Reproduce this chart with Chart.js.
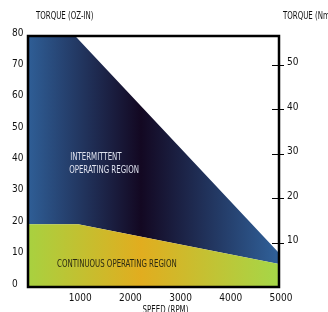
<!DOCTYPE html>
<html>
<head>
<meta charset="utf-8">
<script src="https://cdn.jsdelivr.net/npm/chart.js@4.4.1/dist/chart.umd.min.js"></script>
<style>
  html, body { margin: 0; padding: 0; background: #fff; }
  #wrap { width: 328px; height: 312px; }
</style>
</head>
<body>
<div id="wrap"><canvas id="torqueChart" width="328" height="312"></canvas></div>
<script>
// speed in rpm, torque in oz-in
const contSpeed = [0, 1000, 5000];
const contTorque = [20, 20, 7.3];
const interSpeed = [0, 940, 5000];
const interTorque = [80, 80, 10.8];
const speedTicks = [1000, 2000, 3000, 4000, 5000];
const ozinTicks = [0, 10, 20, 30, 40, 50, 60, 70, 80];
const ncmTicks = [10, 20, 30, 40, 50];
const OZIN_TO_NCM = 0.7062;

const FONT = "'Liberation Sans Narrow', 'DejaVu Sans Condensed', sans-serif";

function hGradient(chart, stops) {
    const area = chart.chartArea;
    if (!area) return stops[0][1];
    const g = chart.ctx.createLinearGradient(area.left, 0, area.right, 0);
    stops.forEach(s => g.addColorStop(s[0], s[1]));
    return g;
}

function squeezedText(ctx, text, x, y, color, align) {
    ctx.save();
    ctx.font = '10px ' + FONT;
    ctx.fillStyle = color;
    ctx.textBaseline = 'middle';
    ctx.textAlign = align || 'left';
    ctx.translate(x, y);
    ctx.scale(0.78, 1);
    ctx.fillText(text, 0, 0);
    ctx.restore();
}

const decorations = {
    id: 'decorations',
    afterDatasetsDraw(chart) {
        const ctx = chart.ctx;
        const a = chart.chartArea;
        const x = chart.scales.x, y = chart.scales.y, y2 = chart.scales.y2;

        // frame
        ctx.save();
        ctx.strokeStyle = '#000';
        ctx.lineWidth = 2.5;
        ctx.strokeRect(a.left, a.top, a.right - a.left, a.bottom - a.top);

        // cross ticks on the right axis
        ctx.lineWidth = 1;
        ncmTicks.forEach(v => {
            const py = Math.round(y2.getPixelForValue(v)) + 0.5;
            ctx.beginPath();
            ctx.moveTo(a.right - 7, py);
            ctx.lineTo(a.right + 5, py);
            ctx.stroke();
        });
        ctx.restore();

        // region labels
        squeezedText(ctx, 'INTERMITTENT', x.getPixelForValue(840), y.getPixelForValue(41.4), '#dfe2ee');
        squeezedText(ctx, 'OPERATING REGION', x.getPixelForValue(820), y.getPixelForValue(37.3), '#dfe2ee');
        squeezedText(ctx, 'CONTINUOUS OPERATING REGION', x.getPixelForValue(580), y.getPixelForValue(7.3), '#2b2a12');

        // axis titles
        squeezedText(ctx, 'TORQUE (OZ-IN)', 36, 16, '#111');
        squeezedText(ctx, 'TORQUE (Nm)', 283, 16, '#111');
        squeezedText(ctx, 'SPEED (RPM)', (a.left + a.right) / 2 + 12, 310, '#111', 'center');
    }
};

const ctx = document.getElementById('torqueChart').getContext('2d');
new Chart(ctx, {
    type: 'line',
    data: {
        datasets: [{
            label: 'Continuous',
            data: contSpeed.map((s, i) => ({ x: s, y: contTorque[i] })),
            fill: 'origin',
            borderWidth: 0,
            pointRadius: 0,
            backgroundColor: c => hGradient(c.chart, [
                [0, '#a8d140'], [0.45, '#e1ad1f'], [1, '#a5d748']
            ])
        }, {
            label: 'Intermittent',
            data: interSpeed.map((s, i) => ({ x: s, y: interTorque[i] })),
            fill: '-1',
            borderWidth: 0,
            pointRadius: 0,
            backgroundColor: c => hGradient(c.chart, [
                [0, '#2f5e96'], [0.45, '#130822'], [1, '#30619a']
            ])
        }]
    },
    options: {
        responsive: false,
        animation: false,
        layout: { autoPadding: false, padding: { left: 12, top: 36, right: 0, bottom: 0 } },
        plugins: { legend: { display: false }, tooltip: { enabled: false } },
        scales: {
            x: {
                type: 'linear',
                min: 0,
                max: 5000,
                afterFit: s => { s.height = 25; },
                afterBuildTicks: s => { s.ticks = speedTicks.map(v => ({ value: v })); },
                grid: { display: false, drawTicks: false },
                border: { display: false },
                ticks: {
                    padding: 5, labelOffset: 2, color: '#111',
                    font: { family: FONT, size: 10 },
                    callback: v => String(v)
                }
            },
            y: {
                position: 'left',
                min: 0,
                max: 80,
                afterFit: s => { s.width = 16; },
                afterBuildTicks: s => { s.ticks = ozinTicks.map(v => ({ value: v })); },
                grid: { display: false, drawTicks: false },
                border: { display: false },
                ticks: { crossAlign: 'far', labelOffset: -3, color: '#111', font: { family: FONT, size: 10 } }
            },
            y2: {
                position: 'right',
                min: 0,
                max: 80 * OZIN_TO_NCM,
                afterFit: s => { s.width = 49; },
                afterBuildTicks: s => { s.ticks = ncmTicks.map(v => ({ value: v })); },
                grid: { display: false, drawTicks: false },
                border: { display: false },
                ticks: { padding: 8, labelOffset: -2, color: '#111', font: { family: FONT, size: 10 } }
            }
        }
    },
    plugins: [decorations]
});
</script>
</body>
</html>
